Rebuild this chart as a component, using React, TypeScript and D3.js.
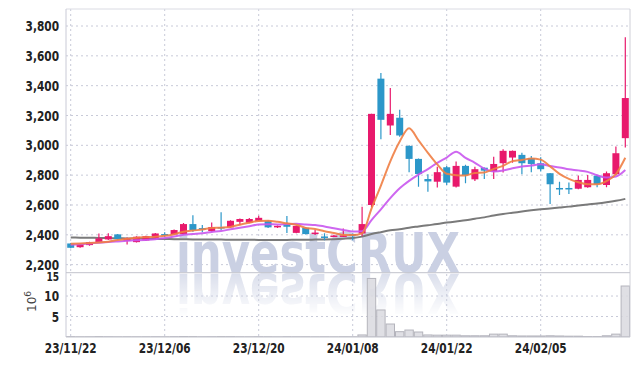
import React from 'react';
import * as d3 from 'd3';

const dates = [
  '23/11/22','23/11/23','23/11/24','23/11/27','23/11/28','23/11/29','23/11/30','23/12/01','23/12/04','23/12/05',
  '23/12/06','23/12/07','23/12/08','23/12/11','23/12/12','23/12/13','23/12/14','23/12/15','23/12/18','23/12/19',
  '23/12/20','23/12/21','23/12/22','23/12/26','23/12/27','23/12/28','24/01/02','24/01/03','24/01/04','24/01/05',
  '24/01/08','24/01/09','24/01/10','24/01/11','24/01/12','24/01/15','24/01/16','24/01/17','24/01/18','24/01/19',
  '24/01/22','24/01/23','24/01/24','24/01/25','24/01/26','24/01/29','24/01/30','24/01/31','24/02/01','24/02/02',
  '24/02/05','24/02/06','24/02/07','24/02/08','24/02/13','24/02/14','24/02/15','24/02/16','24/02/19','24/02/20',
];

const opens = [
  2342, 2317, 2331, 2349, 2369, 2403, 2358, 2351, 2362, 2376,
  2405, 2403, 2405, 2472, 2445, 2425, 2452, 2450, 2487, 2481,
  2492, 2492, 2452, 2470, 2413, 2447, 2410, 2389, 2391, 2390,
  2405, 2409, 2600, 3447, 3133, 3185, 2996, 2909, 2774, 2756,
  2853, 2723, 2862, 2772, 2850, 2824, 2880, 2918, 2936, 2914,
  2880, 2813, 2714, 2714, 2709, 2719, 2797, 2734, 2806, 3048,
];
const highs = [
  2345, 2340, 2353, 2409, 2410, 2405, 2382, 2390, 2394, 2412,
  2418, 2435, 2480, 2532, 2465, 2483, 2551, 2497, 2509, 2512,
  2528, 2497, 2462, 2526, 2462, 2450, 2432, 2411, 2400, 2443,
  2408, 2588, 3211, 3485, 3384, 3238, 3000, 2912, 2806, 2857,
  2862, 2891, 2869, 2857, 2852, 2924, 2974, 2965, 2951, 2929,
  2920, 2815, 2756, 2750, 2797, 2801, 2800, 2824, 2992, 3724,
];
const lows = [
  2310, 2314, 2326, 2345, 2365, 2368, 2335, 2348, 2358, 2372,
  2385, 2400, 2402, 2420, 2418, 2420, 2432, 2447, 2465, 2478,
  2490, 2445, 2445, 2413, 2410, 2402, 2398, 2364, 2385, 2385,
  2364, 2391, 2585, 3041, 3070, 3057, 2820, 2723, 2689, 2717,
  2734, 2717, 2746, 2761, 2774, 2774, 2817, 2884, 2806, 2820,
  2824, 2606, 2667, 2674, 2705, 2715, 2719, 2719, 2800, 2985,
];
const closes = [
  2313, 2337, 2351, 2376, 2391, 2371, 2378, 2387, 2391, 2409,
  2400, 2432, 2472, 2432, 2441, 2452, 2445, 2494, 2506, 2506,
  2514, 2450, 2460, 2454, 2460, 2405, 2415, 2385, 2395, 2396,
  2400, 2472, 3211, 3171, 3211, 3066, 2909, 2808, 2758, 2820,
  2750, 2862, 2801, 2840, 2830, 2875, 2963, 2963, 2880, 2875,
  2840, 2739, 2710, 2710, 2768, 2768, 2739, 2813, 2947, 3317,
];
// volume in millions of shares
const volumes = [
  0.08, 0.05, 0.06, 0.1, 0.07, 0.05, 0.06, 0.05, 0.06, 0.07,
  0.05, 0.08, 0.12, 0.1, 0.06, 0.07, 0.1, 0.09, 0.06, 0.05,
  0.07, 0.06, 0.04, 0.07, 0.05, 0.06, 0.04, 0.05, 0.04, 0.06,
  0.05, 0.5, 14.3, 6.6, 3.17, 1.3, 1.7, 1.22, 0.5, 0.45,
  0.45, 0.45, 0.3, 0.3, 0.3, 0.7, 0.7, 0.3, 0.25, 0.25,
  0.25, 0.3, 0.25, 0.2, 0.2, 0.1, 0.1, 0.3, 0.7, 12.45,
];
const ma5 = [
  2340, 2342, 2345, 2349, 2354, 2365, 2373, 2381, 2384, 2387,
  2393, 2404, 2421, 2429, 2435, 2446, 2448, 2453, 2468, 2481,
  2493, 2494, 2487, 2477, 2468, 2446, 2439, 2424, 2412, 2399,
  2398, 2410, 2575, 2730, 2893, 3026, 3114, 3033, 2950, 2872,
  2809, 2800, 2798, 2815, 2817, 2842, 2862, 2894, 2902, 2911,
  2904, 2859, 2809, 2775, 2753, 2739, 2739, 2760, 2807, 2917,
];
const ma10 = [
  2333, 2337, 2342, 2347, 2352, 2356, 2360, 2363, 2366, 2370,
  2379, 2389, 2401, 2406, 2411, 2419, 2426, 2437, 2448, 2458,
  2469, 2471, 2470, 2472, 2474, 2469, 2466, 2456, 2444, 2433,
  2422, 2424, 2499, 2571, 2646, 2712, 2762, 2804, 2840, 2883,
  2918, 2957, 2916, 2883, 2844, 2825, 2831, 2846, 2858, 2864,
  2873, 2861, 2852, 2839, 2832, 2822, 2799, 2784, 2791, 2835,
];
const ma60 = [
  2382, 2381, 2380, 2379, 2378, 2377, 2376, 2375, 2374, 2373,
  2372, 2371, 2370, 2369, 2369, 2368, 2368, 2367, 2367, 2367,
  2366, 2366, 2366, 2366, 2367, 2367, 2368, 2369, 2371, 2374,
  2378, 2388, 2405, 2418, 2430, 2438, 2448, 2456, 2464, 2472,
  2482, 2490, 2497, 2508, 2517, 2530, 2540, 2548, 2556, 2564,
  2571, 2577, 2583, 2589, 2597, 2604, 2610, 2618, 2628, 2641,
];

const priceTicks = [2200, 2400, 2600, 2800, 3000, 3200, 3400, 3600, 3800];
const volTicks = [5, 10, 15];
const xTickDates = ['23/11/22', '23/12/06', '23/12/20', '24/01/08', '24/01/22', '24/02/05'];

const UP = '#e8196c';
const DOWN = '#2c97c9';
const LABEL_FONT = "'DejaVu Sans Condensed', 'DejaVu Sans', sans-serif";

export default function App() {
  const W = 639, H = 366;
  const left = 66, right = 630, top = 9, priceBottom = 272.7, volBottom = 337;
  const idx = d3.range(dates.length);
  const x = d3.scaleBand<number>().domain(idx).range([left, right]).padding(0);
  const bw = x.bandwidth();
  const cx = (i: number) => (x(i) as number) + bw / 2;
  const y = d3.scaleLinear().domain([2146, 3914]).range([priceBottom, top]);
  const yv = d3.scaleLinear().domain([0, 15.7]).range([volBottom, priceBottom]);

  const line = (arr: number[]) =>
    d3.line<number>().x((_, i) => cx(i)).y((d) => y(d)).curve(d3.curveMonotoneX)(arr) || '';

  const candleW = 7;
  const sx = 0.84;

  return (
    <svg width={W} height={H} style={{ display: 'block', position: 'absolute', left: 0, top: 0, background: '#fff' }}>
      <defs>
        <clipPath id="priceClip">
          <rect x={left} y={top} width={right - left} height={priceBottom - top} />
        </clipPath>
        <clipPath id="volClip">
          <rect x={left} y={priceBottom} width={right - left} height={volBottom - priceBottom} />
        </clipPath>
        <linearGradient id="reflGrad" x1="0" y1="0" x2="0" y2="1">
          <stop offset="0" stopColor="#fff" stopOpacity="0.7" />
          <stop offset="1" stopColor="#fff" stopOpacity="0" />
        </linearGradient>
        <mask id="reflMask" maskUnits="userSpaceOnUse" x={left} y={priceBottom} width={right - left} height={volBottom - priceBottom}>
          <rect x={left} y={priceBottom} width={right - left} height={44} fill="url(#reflGrad)" />
        </mask>
      </defs>

      {/* grid */}
      {priceTicks.map((t) => (
        <line key={'hg' + t} x1={left} x2={right} y1={y(t)} y2={y(t)} stroke="#c8cad8" strokeDasharray="2,3" />
      ))}
      {volTicks.slice(0, 2).map((t) => (
        <line key={'vg' + t} x1={left} x2={right} y1={yv(t)} y2={yv(t)} stroke="#c8cad8" strokeDasharray="2,3" />
      ))}
      {xTickDates.map((d) => {
        const i = dates.indexOf(d);
        return <line key={'xg' + d} x1={cx(i)} x2={cx(i)} y1={top} y2={volBottom} stroke="#c8cad8" strokeDasharray="2,3" />;
      })}

      {/* watermark */}
      <g clipPath="url(#priceClip)">
        <text x={176} y={priceBottom - 1} fontFamily="'DejaVu Sans', sans-serif" fontWeight="bold" fontSize={55}
          textLength={284} lengthAdjust="spacingAndGlyphs" fill="#cad0e3">investCRUX</text>
      </g>
      <g clipPath="url(#volClip)" mask="url(#reflMask)">
        <g transform={`translate(0, ${2 * priceBottom}) scale(1,-1)`}>
          <text x={176} y={priceBottom - 1} fontFamily="'DejaVu Sans', sans-serif" fontWeight="bold" fontSize={55}
            textLength={284} lengthAdjust="spacingAndGlyphs" fill="#cad0e3">investCRUX</text>
        </g>
      </g>

      {/* volume */}
      <g clipPath="url(#volClip)">
        {volumes.map((v, i) => (
          <rect key={'v' + i} x={(x(i) as number) + 0.5} y={yv(v)} width={bw - 1} height={Math.max(0, yv(0) - yv(v))}
            fill="#d9d9df" fillOpacity={0.85} stroke="#b4b4bc" strokeWidth={1} />
        ))}
      </g>

      {/* frame */}
      <line x1={left} x2={right} y1={top} y2={top} stroke="#dadbe3" />
      <line x1={right} x2={right} y1={top} y2={volBottom} stroke="#cfd0d8" />
      <line x1={left} x2={left} y1={top} y2={volBottom} stroke="#c9cad6" />
      <line x1={left} x2={right} y1={priceBottom} y2={priceBottom} stroke="#c2c3cc" />
      <line x1={left} x2={right} y1={volBottom} y2={volBottom} stroke="#c2c3cc" />

      {/* price */}
      <g clipPath="url(#priceClip)">
        <path d={line(ma60)} fill="none" stroke="#7a7a7a" strokeWidth={2} />
        {idx.map((i) => {
          const o = opens[i], c = closes[i], h = highs[i], l = lows[i];
          const col = c >= o ? UP : DOWN;
          const yTop = y(Math.max(o, c));
          const yBot = y(Math.min(o, c));
          const bh = Math.max(1.5, yBot - yTop);
          return (
            <g key={'c' + i}>
              <line x1={cx(i)} x2={cx(i)} y1={y(h)} y2={y(l)} stroke={col} strokeWidth={1.2} />
              <rect x={cx(i) - candleW / 2} y={yTop} width={candleW} height={bh} fill={col} />
            </g>
          );
        })}
        <path d={line(ma10)} fill="none" stroke="#c956ee" strokeWidth={2} strokeOpacity={0.9} />
        <path d={line(ma5)} fill="none" stroke="#ef7e44" strokeWidth={2} strokeOpacity={0.9} />
      </g>

      {/* y axis labels */}
      {priceTicks.map((t) => (
        <text key={'yl' + t} transform={`translate(59, ${y(t)}) scale(${sx}, 1)`} dy="0.36em" textAnchor="end"
          fontFamily={LABEL_FONT} fontWeight="bold" fontSize={14} fill="#222">{d3.format(',')(t)}</text>
      ))}
      {volTicks.map((t) => (
        <text key={'vl' + t} transform={`translate(59, ${yv(t) + (t === 15 ? 1 : 0)}) scale(${sx}, 1)`} dy="0.36em" textAnchor="end"
          fontFamily={LABEL_FONT} fontWeight="bold" fontSize={t === 15 ? 12 : 14} fill="#222">{t}</text>
      ))}
      <text transform={`translate(36, 312) rotate(-90)`} fontFamily="'DejaVu Sans', sans-serif" fontSize={12} fill="#444">
        10<tspan dy={-5} fontSize={9}>6</tspan>
      </text>

      {/* x axis labels */}
      {xTickDates.map((d) => {
        const i = dates.indexOf(d);
        return (
          <text key={'xl' + d} transform={`translate(${cx(i)}, 353) scale(${sx}, 1)`} textAnchor="middle"
            fontFamily={LABEL_FONT} fontWeight="bold" fontSize={14} fill="#222">{d}</text>
        );
      })}
    </svg>
  );
}
